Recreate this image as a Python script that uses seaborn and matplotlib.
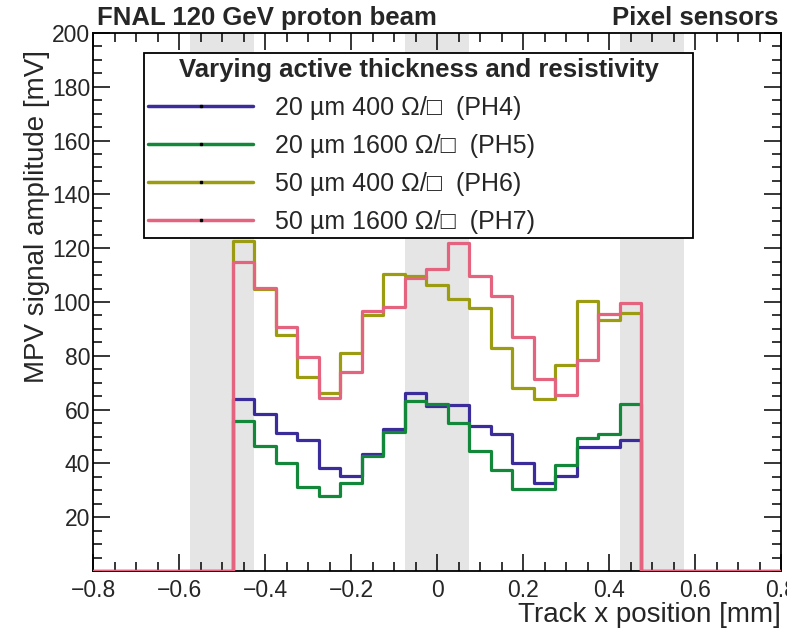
import numpy as np
import pandas as pd
import matplotlib
matplotlib.use("Agg")
import matplotlib.pyplot as plt
import seaborn as sns
from matplotlib.lines import Line2D
from matplotlib.ticker import MultipleLocator

# bin centres of the track x position [mm]
x_centers = [-0.45, -0.40, -0.35, -0.30, -0.25, -0.20, -0.15, -0.10, -0.05, 0.0,
             0.05, 0.10, 0.15, 0.20, 0.25, 0.30, 0.35, 0.40, 0.45]

# MPV signal amplitude [mV] per bin
ph4 = [63.8, 58.3, 51.4, 48.7, 38.2, 35.4, 43.5, 52.7, 66.3, 61.3,
       61.7, 54.0, 50.9, 40.3, 32.8, 35.3, 46.0, 46.0, 48.7]
ph5 = [55.9, 46.6, 40.0, 31.3, 28.0, 32.6, 42.8, 51.8, 63.3, 62.1,
       54.9, 44.6, 37.5, 30.5, 30.5, 39.4, 49.3, 50.8, 62.0]
ph6 = [122.8, 104.7, 87.7, 72.2, 66.1, 80.9, 95.2, 110.4, 109.7, 106.3,
       101.1, 97.7, 83.0, 68.1, 63.9, 76.6, 100.5, 93.3, 95.8]
ph7 = [115.0, 105.1, 90.6, 79.4, 64.2, 74.1, 96.8, 98.0, 108.8, 112.2,
       122.0, 109.7, 102.2, 87.1, 71.3, 65.4, 78.4, 95.5, 99.7]

labels = ["20 µm 400 Ω/□  (PH4)", "20 µm 1600 Ω/□  (PH5)",
          "50 µm 400 Ω/□  (PH6)", "50 µm 1600 Ω/□  (PH7)"]
colors = ["#3b2c9b", "#14883a", "#9c9c12", "#e4647f"]

# gray bands: inter-pixel regions
gap_regions = [(-0.575, -0.425), (-0.075, 0.075), (0.425, 0.575)]

df = pd.DataFrame({"x": x_centers, "PH4": ph4, "PH5": ph5, "PH6": ph6, "PH7": ph7})
# 50 um bins, edges at odd multiples of 25 um
bins = (np.arange(-33, 34, 2) * 0.025).tolist()

sns.set_style("ticks")
plt.rcParams["font.family"] = ["Liberation Sans", "DejaVu Sans"]

fig = plt.figure(figsize=(7.87, 6.33), dpi=100)
ax = fig.add_axes([0.1182, 0.0979, 0.8742, 0.850])

for lo, hi in gap_regions:
    ax.axvspan(lo, hi, color="#e5e5e5", lw=0, zorder=0)

for name, col in zip(["PH4", "PH5", "PH6", "PH7"], colors):
    sns.histplot(data=df, x="x", weights=name, bins=bins, element="step",
                 fill=False, color=col, linewidth=2.3, ax=ax, zorder=3)

ax.set_xlim(-0.8, 0.8)
ax.set_ylim(0, 200)
ax.xaxis.set_major_locator(MultipleLocator(0.2))
ax.xaxis.set_minor_locator(MultipleLocator(0.05))
ax.yaxis.set_major_locator(MultipleLocator(20))
ax.yaxis.set_minor_locator(MultipleLocator(5))
ax.xaxis.set_major_formatter(lambda v, p: ("%g" % round(v, 2)).replace("-", "\u2212"))
ax.set_yticks(np.arange(20, 201, 20))
ax.tick_params(which="both", direction="in", top=True, right=True, width=1.1, color="black")
ax.tick_params(which="major", length=12)
ax.tick_params(which="minor", length=6.5)
ax.tick_params(axis="x", which="major", labelsize=16.5, pad=6)
ax.tick_params(axis="y", which="major", labelsize=16.5, pad=2)
for s in ax.spines.values():
    s.set_linewidth(1.3)
    s.set_color("black")

ax.set_xlabel("Track x position [mm]", fontsize=20, loc="right")
ax.xaxis.set_label_coords(1.0, -0.058)
ax.set_ylabel("MPV signal amplitude [mV]", fontsize=20, loc="top")
ax.yaxis.set_label_coords(-0.062, 0.968)

fig.text(0.123, 0.972, "FNAL 120 GeV proton beam", fontsize=18.5,
         fontweight="bold", ha="left", va="center")
fig.text(0.9886, 0.972, "Pixel sensors", fontsize=18.5,
         fontweight="bold", ha="right", va="center")

handles = [Line2D([0], [0], color=c, lw=2.5, marker="s", markersize=1.6,
                  markerfacecolor="black", markeredgecolor="black") for c in colors]
leg = ax.legend(handles, labels, title="Varying active thickness and resistivity",
                loc="upper left", bbox_to_anchor=(0.074, 0.628, 0.798, 0.334),
                mode="expand", fontsize=18,
                title_fontproperties={"weight": "bold", "size": 18.5},
                frameon=True, fancybox=False, edgecolor="black", framealpha=1,
                handlelength=4.2, handletextpad=0.85, labelspacing=0.56,
                borderpad=0.18, borderaxespad=0, alignment="center")
leg.get_frame().set_linewidth(1.3)
leg.set_zorder(6)

fig.savefig("out.png", dpi=100)
